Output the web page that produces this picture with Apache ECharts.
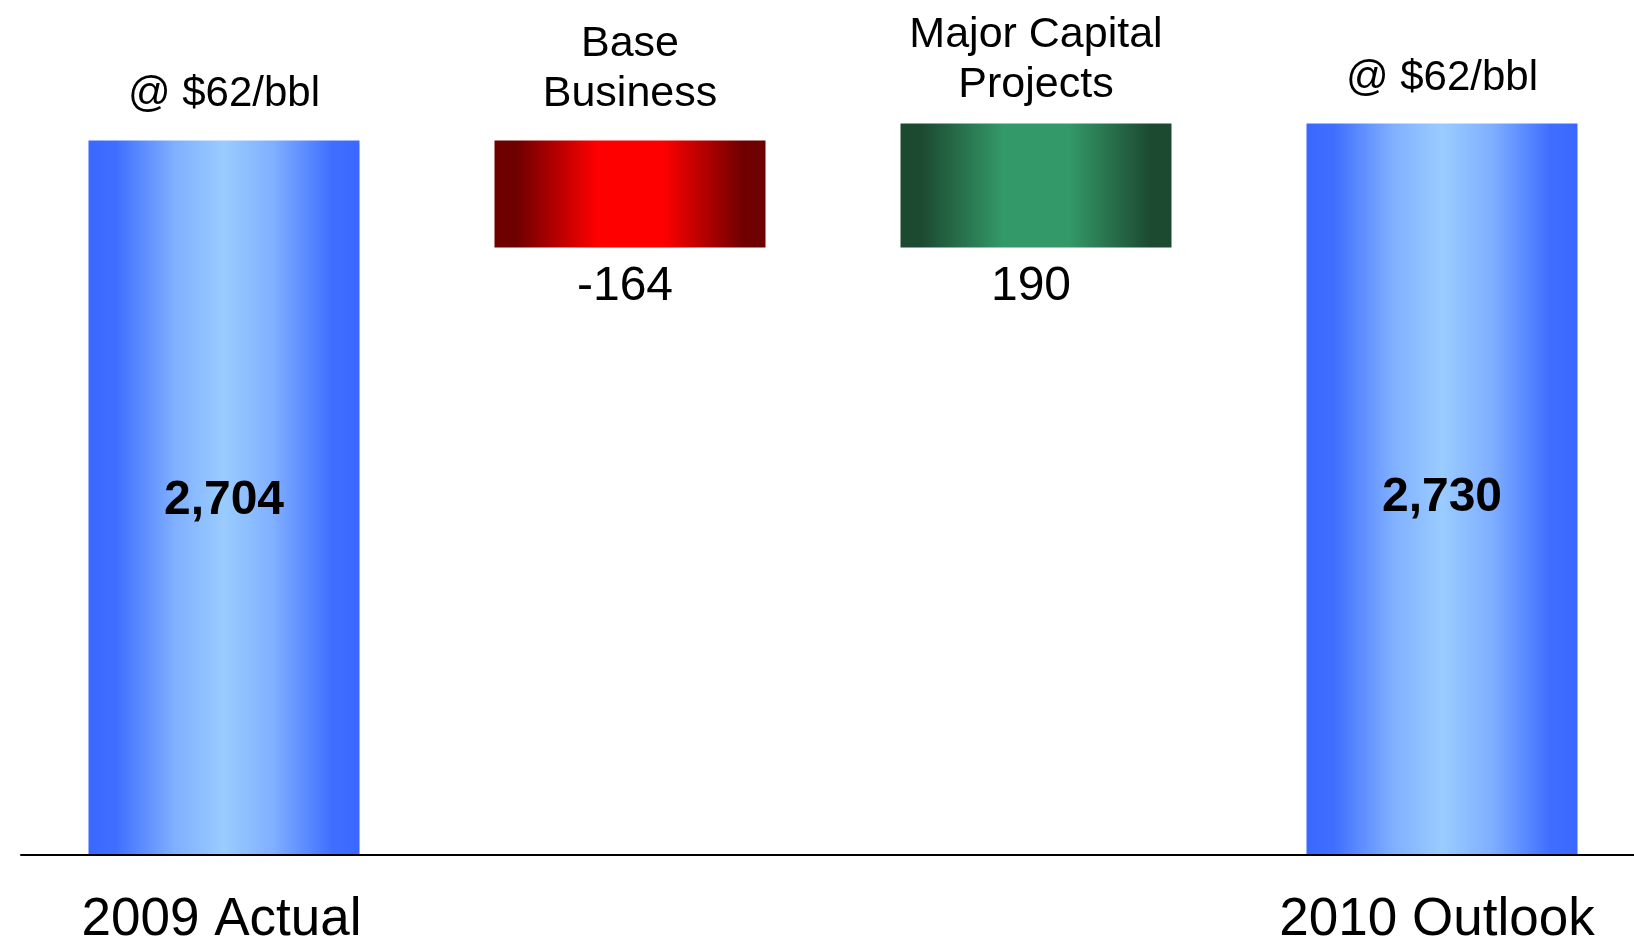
<!DOCTYPE html>
<html><head><meta charset="utf-8">
<script src="https://cdn.jsdelivr.net/npm/echarts@6/dist/echarts.min.js"></script>
<style>html,body{margin:0;padding:0;background:#fff}#c{width:1634px;height:940px}</style>
</head><body><div id="c"></div>
<script>
// ---- data ----
const categories = ['2009 Actual', 'Base Business', 'Major Capital Projects', '2010 Outlook'];
const axisLabels = ['2009 Actual', '', '', '2010 Outlook'];
const headers = ['@ $62/bbl', 'Base\nBusiness', 'Major Capital\nProjects', '@ $62/bbl'];
const kinds = ['total', 'delta', 'delta', 'total'];
const values = [2704, -164, 190, 2730];

// ---- layout / style (not data) ----
const FONT = '"Liberation Sans", Arial, sans-serif';
const headerGap = [21, 21, 13, 20];
const headerSize = [42, 43, 43, 42];
const valueOffset = [[0, 3], [-5, 0], [-5, 0], [0, 9]];
const axisShift = [5, 0, 0, 10];

function grad(edge, mid) {
  return new echarts.graphic.LinearGradient(0, 0, 1, 0, [
    {offset: 0, color: edge},
    {offset: 0.08, color: edge},
    {offset: 0.38, color: mid},
    {offset: 0.62, color: mid},
    {offset: 0.92, color: edge},
    {offset: 1, color: edge}
  ]);
}
const blue = new echarts.graphic.LinearGradient(0, 0, 1, 0, [
  {offset: 0, color: '#3A68FF'},
  {offset: 0.1, color: '#3F6EFF'},
  {offset: 0.32, color: '#80B0FF'},
  {offset: 0.5, color: '#9ACCFF'},
  {offset: 0.68, color: '#80B0FF'},
  {offset: 0.9, color: '#3F6EFF'},
  {offset: 1, color: '#3A68FF'}
]);
const red = grad('#6E0000', '#FF0000');
const green = grad('#1C4A31', '#349968');

// build waterfall pieces from the data arrays
let running = 0;
const baseData = [], visData = [], topData = [];
values.forEach((v, i) => {
  if (kinds[i] === 'total') {
    baseData.push(0);
    running = v;
    visData.push({
      value: v,
      itemStyle: {color: blue},
      label: {show: true, position: 'inside', fontWeight: 'bold', fontSize: 48,
        offset: valueOffset[i], formatter: v.toLocaleString('en-US')}
    });
    topData.push(v);
  } else {
    const before = running, after = running + v;
    baseData.push(Math.min(before, after));
    visData.push({
      value: Math.abs(v),
      itemStyle: {color: v < 0 ? red : green},
      label: {show: true, position: 'bottom', distance: 15, fontSize: 48,
        offset: valueOffset[i], formatter: String(v)}
    });
    topData.push(Math.max(before, after));
    running = after;
  }
});

const rich = {};
axisShift.forEach((s, i) => {
  rich['l' + i] = {fontSize: 53, color: '#000', fontFamily: FONT, padding: [0, s, 0, 0]};
});

const chart = echarts.init(document.getElementById('c'));
chart.setOption({
  animation: false,
  backgroundColor: '#fff',
  textStyle: {fontFamily: FONT, color: '#000'},
  grid: {left: 21, width: 1624, top: 55, bottom: 85, containLabel: false, outerBoundsMode: 'none'},
  xAxis: {
    type: 'category',
    data: categories,
    z: 10,
    axisLine: {show: true, onZero: false, lineStyle: {color: '#000', width: 2}},
    axisTick: {show: false},
    axisLabel: {interval: 0, fontSize: 53, margin: 39, color: '#000', fontFamily: FONT,
      formatter: (val, idx) => axisLabels[idx] ? '{l' + idx + '|' + axisLabels[idx] + '}' : '',
      rich: rich}
  },
  yAxis: {
    type: 'value', min: 1609, max: 2835, show: false, splitLine: {show: false}
  },
  series: [
    {
      type: 'bar', stack: 'w', barWidth: 271, silent: true,
      itemStyle: {color: 'rgba(0,0,0,0)'},
      data: baseData
    },
    {
      type: 'bar', stack: 'w', barWidth: 271,
      label: {color: '#000', fontFamily: FONT},
      data: visData
    },
    {
      type: 'scatter', symbolSize: 0, silent: true,
      itemStyle: {color: '#000', opacity: 1},
      data: topData.map((t, i) => ({
        value: t,
        label: {show: true, position: 'top', distance: headerGap[i],
          fontSize: headerSize[i], lineHeight: 50, fontWeight: 'normal',
          color: '#000', opacity: 1, fontFamily: FONT, align: 'center',
          formatter: headers[i]}
      }))
    }
  ]
});
</script></body></html>
